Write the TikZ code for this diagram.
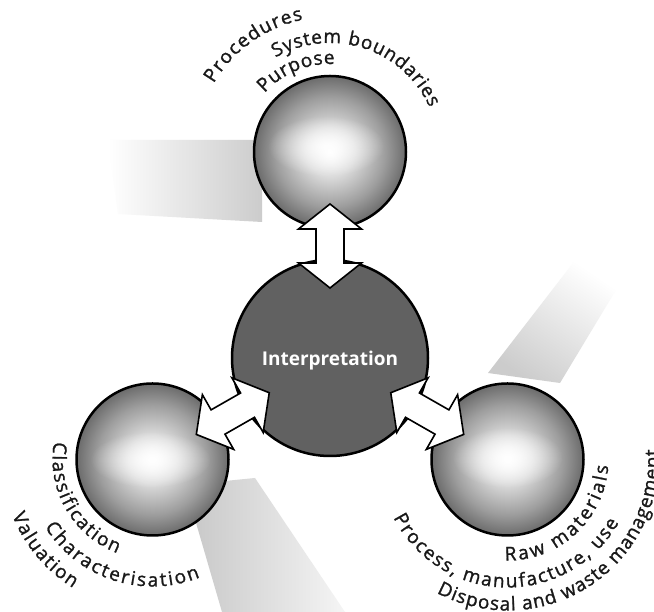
\documentclass[tikz,border=0pt]{standalone}
\usepackage{fontspec}
\usetikzlibrary{calc,decorations.text,fadings}
\newfontfamily\arcfam[FakeBold=1.2]{Open Sans}
\newfontfamily\labelfam{Open Sans}
\newcommand\arcstyle{\arcfam\fontsize{19}{21}\selectfont}
\pgfdeclareradialshading{ballshade}{\pgfpoint{0bp}{0bp}}{color(0bp)=(white); color(8bp)=(black!14); color(18bp)=(black!38); color(25bp)=(black!58); color(50bp)=(black!58)}
\tikzfading[name=softglow, inner color=transparent!0, outer color=transparent!100]
\tikzset{
  outerball/.style={circle, minimum size=152pt, inner sep=0pt, draw=black, line width=2.5pt, shading=ballshade},
  innerball/.style={circle, minimum size=196pt, inner sep=0pt, draw=black, line width=2.5pt, fill=black!62},
  balllabel/.style={text=white, inner sep=0pt, font=\labelfam\bfseries\fontsize{19}{21}\selectfont},
  blockarrow/.style={draw=black, fill=white, line width=1.6pt, line join=miter},
  arctext/.style={decorate, decoration={text along path, text color=black!90, text align={fit to path}, text={|\arcstyle|#1}}},
  highlight/.style={fill=white, path fading=softglow, fill opacity=0.9},
}
\newcommand\dblarrow[2]{%
  \path ($(#1)!70pt!(#2)$) coordinate (#1#2a)
        ($(#1)!95pt!(#2)$) coordinate (#1#2b)
        ($(#1)!129pt!(#2)$) coordinate (#1#2c)
        ($(#1)!154pt!(#2)$) coordinate (#1#2d);
  \draw[blockarrow] (#1#2a) -- ($(#1#2b)!31.5pt!90:(#2)$) -- ($(#1#2b)!14pt!90:(#2)$)
    -- ($(#1#2c)!14pt!90:(#2)$) -- ($(#1#2c)!31.5pt!90:(#2)$) -- (#1#2d)
    -- ($(#1#2c)!31.5pt!-90:(#2)$) -- ($(#1#2c)!14pt!-90:(#2)$)
    -- ($(#1#2b)!14pt!-90:(#2)$) -- ($(#1#2b)!31.5pt!-90:(#2)$) -- cycle;
}
\begin{document}
\begin{tikzpicture}[x=1pt,y=1pt]
\fill[white] (0,0) rectangle (654,612);
\useasboundingbox (0,0) rectangle (654,612);
% faint background bands
\shade[left color=white, right color=black!20] (108,472) -- (262,472) -- (262,390) -- (118,398) -- cycle;
\shade[top color=white, bottom color=black!20, shading angle=-34] (488,239) -- (573,349) -- (622,332) -- (560,229) -- cycle;
\shade[left color=black!22, right color=black!4] (185,127) -- (255,134) -- (345,0) -- (222,0) -- cycle;
% balls
\node[outerball] (T) at (330,460) {};
\node[outerball] (L) at (152.5,152.5) {};
\node[outerball] (R) at (507.5,152.5) {};
\fill[highlight] ([xshift=-4pt,yshift=6pt]T.center) ellipse[x radius=58, y radius=30];
\fill[highlight] ([xshift=-2pt]L.center) ellipse[x radius=60, y radius=28];
\fill[highlight] ([yshift=2pt]R.center) ellipse[x radius=55, y radius=30];
\node[innerball] (C) at (330,254) {};
\node[balllabel] (lbl) at ([yshift=-3pt]C.center) {Interpretation};
% arrows
\dblarrow{C}{T}
\dblarrow{C}{L}
\dblarrow{C}{R}
% texts around top ball
\path[arctext={Purpose}] (T.center) ++(138:88) arc[start angle=138, end angle=87, radius=88];
\path[arctext={System boundaries}] (T.center) ++(120:109) arc[start angle=120, end angle=24, radius=109];
\path[arctext={Procedures}] (T.center) ++(149.5:135) arc[start angle=149.5, end angle=101.5, radius=135];
% texts around left ball
\path[arctext={Classification}] (L.center) ++(169.7:100) arc[start angle=169.7, end angle=249.4, radius=100];
\path[arctext={Characterisation}] (L.center) ++(212:127) arc[start angle=212, end angle=292, radius=127];
\path[arctext={Valuation}] (L.center) ++(201.7:151) arc[start angle=201.7, end angle=238.3, radius=151];
% texts around right ball
\path[arctext={Raw materials}] (R.center) ++(268.5:101) arc[start angle=268.5, end angle=356.5, radius=101];
\path[arctext={Process, manufacture, use}] (R.center) ++(207:128) arc[start angle=207, end angle=330.5, radius=128];
\path[arctext={Disposal and waste management}] (R.center) ++(242:151) arc[start angle=242, end angle=364, radius=151];
\end{tikzpicture}
\end{document}
